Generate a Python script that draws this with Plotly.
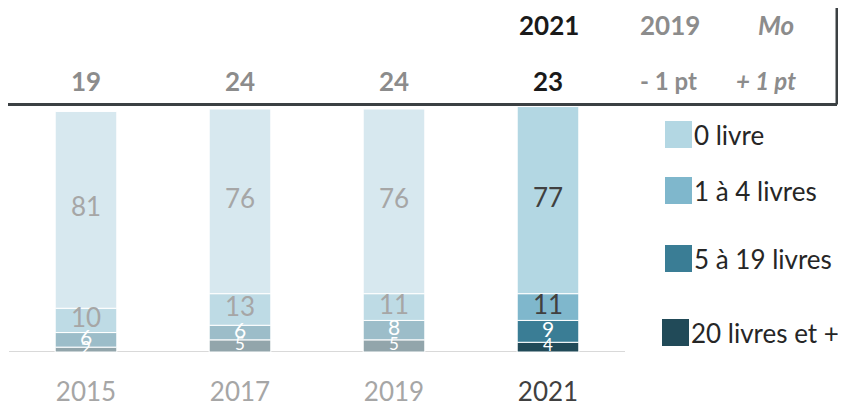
import numpy as np
import plotly.graph_objects as go

years = ['2015', '2017', '2019', '2021']
categories = ['0 livre', '1 à 4 livres', '5 à 19 livres', '20 livres et +']
# stacked from bottom: 20+, 5-19, 1-4, 0
v_0 = [81, 76, 76, 77]
v_1_4 = [10, 13, 11, 11]
v_5_19 = [6, 6, 8, 9]
v_20 = [2, 5, 5, 4]
totals = [19, 24, 24, 23]
header_top = ['2021', '2019', 'Mo']
header_bot = ['23', '- 1 pt', '+ 1 pt']

cols_now = ['#b3d7e3', '#7fb7cc', '#3a7d95', '#214a58']
cols_past = ['#d7e8ef', '#bedbe5', '#9cbdc9', '#92a5ab']
lbl_past = ['#a6a6a6', '#a6a6a6', '#ffffff', '#ffffff']
lbl_now = ['#404040', '#404040', '#ffffff', '#ffffff']
lbl_size = [26, 26, 21, 17]

FONT = 'Lato'
OFF = 8  # page body margin
W, H = 846 - OFF, 406 - OFF
base_px, px_per = 352 - OFF, 2.43
x0px, step = 86 - OFF, 154

def px2x(p):
    return (p - OFF - x0px) / step

def py2paper(p):
    return 1 - (p - OFF) / H

def pxp(p):
    return (p - OFF) / W

series = [v_0, v_1_4, v_5_19, v_20]
xs = np.arange(len(years))
fig = go.Figure()

order = [3, 2, 1, 0]
bottom = np.zeros(len(years))
for k in order:
    vals = np.array(series[k], dtype=float)
    colors = [cols_past[k]] * (len(years) - 1) + [cols_now[k]]
    fig.add_trace(go.Bar(x=xs, y=vals, base=bottom, width=0.4, marker=dict(color=colors, line=dict(color='white', width=1)),
                         showlegend=False, hoverinfo='skip'))
    mids = bottom + vals / 2
    tcols = [lbl_past[k]] * (len(years) - 1) + [lbl_now[k]]
    fig.add_trace(go.Scatter(x=xs, y=mids, mode='text', text=[str(v) for v in series[k]],
                             textfont=dict(family=FONT, size=lbl_size[k], color=tcols),
                             cliponaxis=True, showlegend=False, hoverinfo='skip'))
    bottom = bottom + vals

ann = []
# totals row
for i, t in enumerate(totals):
    ann.append(dict(x=i, y=py2paper(81), xref='x', yref='paper', yanchor='middle', text='<b>%d</b>' % t,
                    showarrow=False,
                    font=dict(family=FONT, size=26, color='#1a1a1a' if i == len(totals) - 1 else '#8c8c8c')))
# header cells
hx = [549, 670, 776]
hx2 = [549, 668, 766]
for j, s in enumerate(header_top):
    c = '#1a1a1a' if j == 0 else '#8c8c8c'
    txt = '<b>%s</b>' % s if j < 2 else '<b><i>%s</i></b>' % s
    ann.append(dict(x=px2x(hx[j]), y=py2paper(25), xref='x', yref='paper', yanchor='middle', text=txt,
                    showarrow=False, font=dict(family=FONT, size=26, color=c)))
for j, s in enumerate(header_bot[1:], start=1):
    txt = '<b>%s</b>' % s if j < 2 else '<b><i>%s</i></b>' % s
    ann.append(dict(x=px2x(hx2[j]), y=py2paper(81), xref='x', yref='paper', yanchor='middle', text=txt,
                    showarrow=False, font=dict(family=FONT, size=24, color='#8c8c8c')))

shapes = []
# box border (bottom + right edge)
box_y = py2paper(104.5)
box_r = pxp(837)
shapes.append(dict(type='line', xref='paper', yref='paper', x0=0, x1=box_r, y0=box_y, y1=box_y,
                   line=dict(color='#3b4043', width=3)))
shapes.append(dict(type='line', xref='paper', yref='paper', x0=box_r, x1=box_r, y0=box_y, y1=1,
                   line=dict(color='#3b4043', width=3)))
# baseline
shapes.append(dict(type='line', xref='paper', yref='y', x0=pxp(9), x1=pxp(625), y0=0, y1=0,
                   line=dict(color='#d9d9d9', width=2), layer='below'))

# legend
leg_y = [134.5, 190.5, 258.5, 332.5]
leg_x = [665, 665, 665, 662]
for k, name in enumerate(categories):
    shapes.append(dict(type='rect', xref='paper', yref='paper', x0=pxp(leg_x[k]), x1=pxp(leg_x[k] + 27),
                       y0=py2paper(leg_y[k] + 13.5), y1=py2paper(leg_y[k] - 13.5),
                       fillcolor=cols_now[k], line=dict(width=0)))
    ann.append(dict(x=pxp(leg_x[k] + 27), y=py2paper(leg_y[k]), xref='paper', yref='paper', text=name,
                    showarrow=False, xanchor='left', yanchor='middle',
                    font=dict(family=FONT, size=26, color='#262626')))

ticktext = [y if i < len(years) - 1 else '<span style="color:#404040">%s</span>' % y for i, y in enumerate(years)]

fig.update_layout(
    width=W, height=H, margin=dict(l=0, r=0, t=0, b=0),
    paper_bgcolor='white', plot_bgcolor='white',
    barmode='overlay', annotations=ann, shapes=shapes,
    xaxis=dict(range=[px2x(OFF), px2x(846)], tickvals=list(xs), ticktext=ticktext, showgrid=False, zeroline=False,
               showline=False, ticks='', ticklabelstandoff=22,
               tickfont=dict(family=FONT, size=26, color='#a6a6a6')),
    yaxis=dict(domain=[(H - base_px) / H, 1], range=[0, base_px / px_per], visible=False),
)

fig.write_html("out.html")
